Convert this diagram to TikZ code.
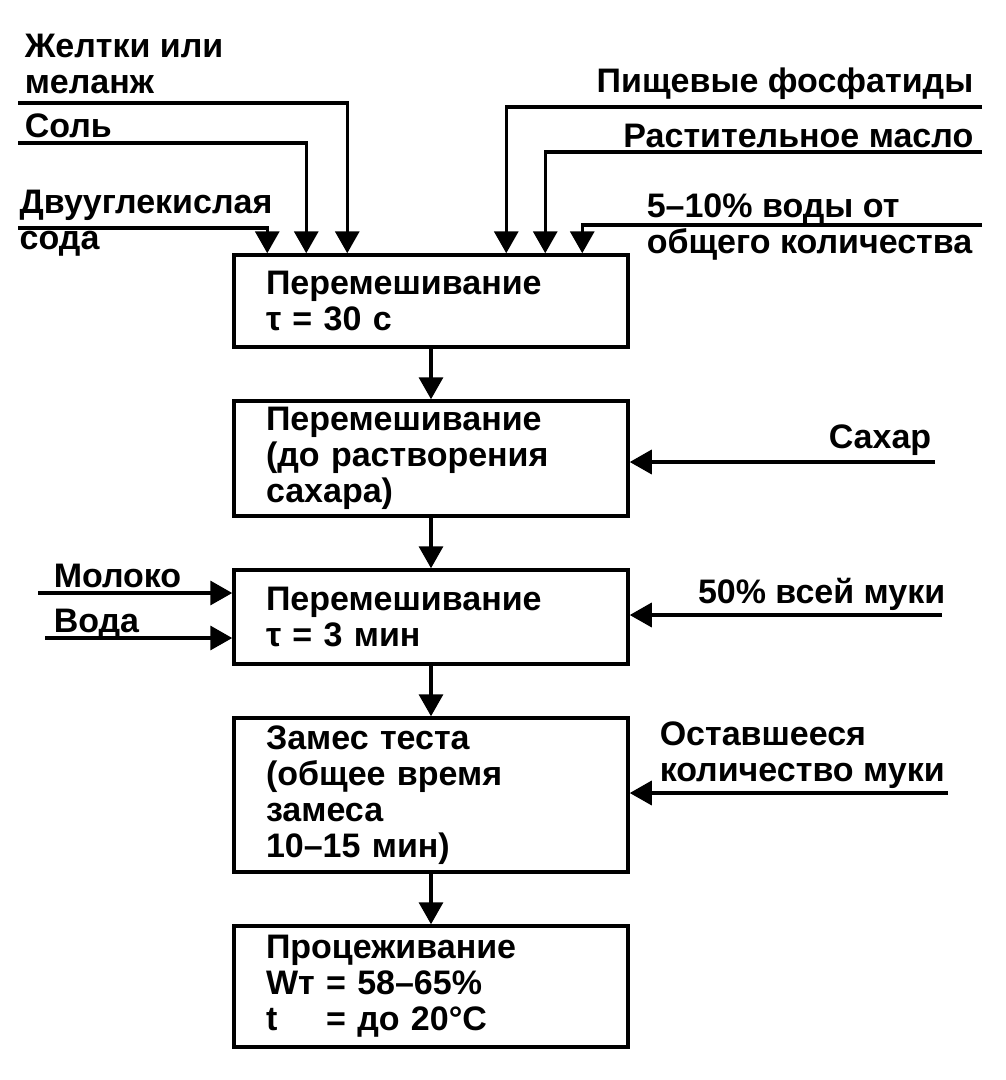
\documentclass[tikz,border=0pt]{standalone}
\usepackage{fontspec}
\setmainfont{Liberation Sans}
\usetikzlibrary{
    positioning,   % Required for "below=of"
    arrows.meta,   % Required for Triangle arrowheads
    calc           % Required for points on the first box
}

\begin{document}
\begin{tikzpicture}[
        x=1pt, y=-1pt,
        line width=3.5pt,
        node distance=50.5pt,
        font=\fontsize{34}{36}\selectfont\bfseries,
        % Styles
        stage/.style={draw, rectangle, text width=330pt, inner xsep=32pt, inner ysep=0pt, align=left},
        inlet/.style={inner sep=0pt, align=left},
        feed/.style={-{Triangle[width=24pt,length=22pt]}}
    ]

    \useasboundingbox (0,0) rectangle (1006,1080);

    % --- 1. Process stages ---
    \node[stage, minimum height=92pt] (b1) at (431,301) {Перемешивание\\τ = 30 с};
    \node[stage, minimum height=115pt, below=of b1] (b2) {Перемешивание\\(до растворения\\сахара)};
    \node[stage, minimum height=94pt, below=of b2] (b3) {Перемешивание\\τ = 3 мин};
    \node[stage, minimum height=154pt, below=of b3] (b4) {Замес теста\\(общее время\\замеса\\10–15 мин)};
    \node[stage, minimum height=121pt, below=of b4] (b5) {Процеживание\\Wт = 58–65\%\\\leavevmode\rlap{t}\hphantom{Wт} = до 20°C};

    \draw[feed] (b1) -- (b2);
    \draw[feed] (b2) -- (b3);
    \draw[feed] (b3) -- (b4);
    \draw[feed] (b4) -- (b5);

    % --- 2. Inputs from the top left ---
    \node[inlet, anchor=north west] (yolk) at (23,32) {Желтки или\\меланж};
    \node[inlet, anchor=base west] (salt) at (23,137) {Соль};
    \node[inlet, anchor=north west] (soda) at (18,188) {Двууглекислая\\сода};

    \coordinate (yolk-in) at (18,103);
    \coordinate (salt-in) at (18,143);
    \coordinate (soda-in) at (18,228);

    \draw[feed] (yolk-in) -| ($(b1.north west)+(115,0)$);
    \draw[feed] (salt-in) -| ($(b1.north west)+(74,0)$);
    \draw[feed] (soda-in) -| ($(b1.north west)+(35,0)$);

    % --- 3. Inputs from the top right ---
    \node[inlet, anchor=base east] (phos) at (975,92) {Пищевые фосфатиды};
    \node[inlet, anchor=base east] (oil) at (975,147) {Растительное масло};
    \node[inlet, anchor=north west] (water5) at (645,192) {5–10\% воды от\\общего количества};

    \coordinate (phos-in) at (982,107);
    \coordinate (oil-in) at (982,152);
    \coordinate (water5-in) at (982,225);

    \draw[feed] (phos-in) -| ($(b1.north west)+(274,0)$);
    \draw[feed] (oil-in) -| ($(b1.north west)+(313,0)$);
    \draw[feed] (water5-in) -| ($(b1.north west)+(350,0)$);

    % --- 4. Side inputs ---
    \node[inlet, anchor=base east] (sugar) at (933,448) {Сахар};
    \node[inlet, anchor=base east] (flour50) at (947,603) {50\% всей муки};
    \node[inlet, anchor=north west] (flour) at (658,720) {Оставшееся\\количество муки};
    \node[inlet, anchor=base west] (milk) at (52,587) {Молоко};
    \node[inlet, anchor=base west] (water) at (52,632) {Вода};

    \coordinate (sugar-in) at (935,462);
    \coordinate (flour50-in) at (942,615);
    \coordinate (flour-in) at (948,793);
    \coordinate (milk-in) at (38,593);
    \coordinate (water-in) at (45,638);

    \draw[feed] (sugar-in) -- (sugar-in -| b2.east);
    \draw[feed] (flour50-in) -- (flour50-in -| b3.east);
    \draw[feed] (flour-in) -- (flour-in -| b4.east);
    \draw[feed] (milk-in) -- (milk-in -| b3.west);
    \draw[feed] (water-in) -- (water-in -| b3.west);

\end{tikzpicture}
\end{document}
